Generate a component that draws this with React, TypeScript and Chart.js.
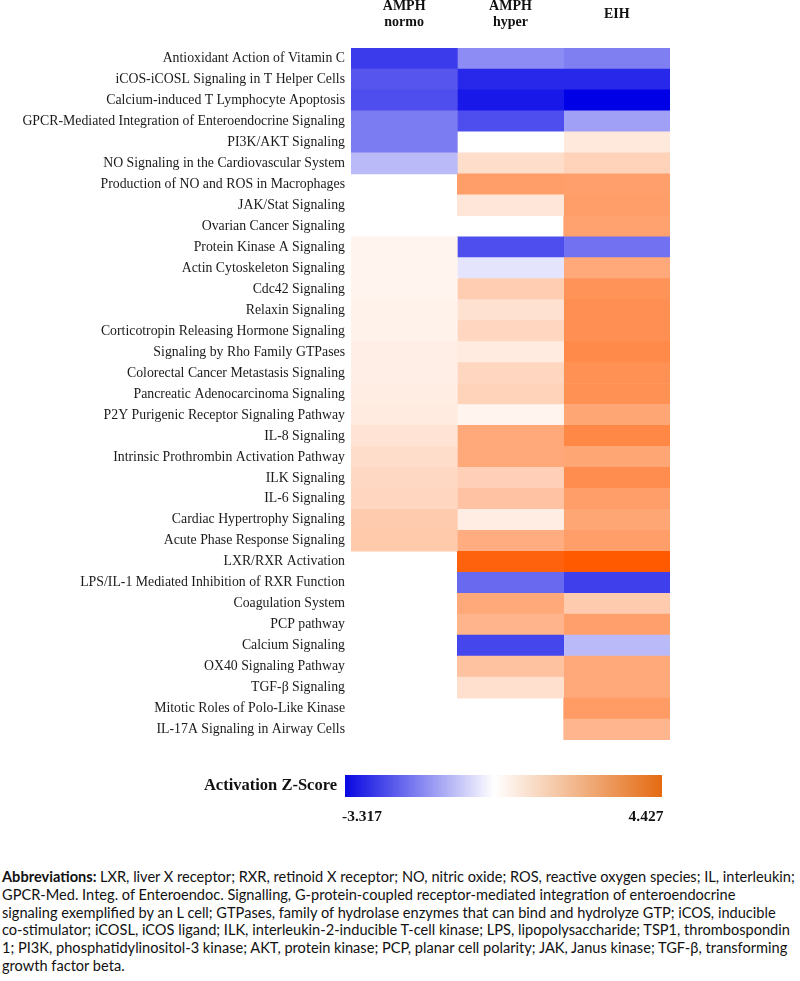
import React, { useEffect, useRef } from "react";
import { Chart, registerables } from "chart.js";
Chart.register(...registerables);

const pathways = [
  "Antioxidant Action of Vitamin C",
  "iCOS-iCOSL Signaling in T Helper Cells",
  "Calcium-induced T Lymphocyte Apoptosis",
  "GPCR-Mediated Integration of Enteroendocrine Signaling",
  "PI3K/AKT Signaling",
  "NO Signaling in the Cardiovascular System",
  "Production of NO and ROS in Macrophages",
  "JAK/Stat Signaling",
  "Ovarian Cancer Signaling",
  "Protein Kinase A Signaling",
  "Actin Cytoskeleton Signaling",
  "Cdc42 Signaling",
  "Relaxin Signaling",
  "Corticotropin Releasing Hormone Signaling",
  "Signaling by Rho Family GTPases",
  "Colorectal Cancer Metastasis Signaling",
  "Pancreatic Adenocarcinoma Signaling",
  "P2Y Purigenic Receptor Signaling Pathway",
  "IL-8 Signaling",
  "Intrinsic Prothrombin Activation Pathway",
  "ILK Signaling",
  "IL-6 Signaling",
  "Cardiac Hypertrophy Signaling",
  "Acute Phase Response Signaling",
  "LXR/RXR Activation",
  "LPS/IL-1 Mediated Inhibition of RXR Function",
  "Coagulation System",
  "PCP pathway",
  "Calcium Signaling",
  "OX40 Signaling Pathway",
  "TGF-β Signaling",
  "Mitotic Roles of Polo-Like Kinase",
  "IL-17A Signaling in Airway Cells",
];

const columnLabels = [["AMPH", "normo"], ["AMPH", "hyper"], "EIH"];

const amphNormo = [
  -2.55, -2.2, -2.3, -1.72, -1.72, -0.9, null, null, null, 0.3, 0.3, 0.3, 0.35,
  0.35, 0.45, 0.45, 0.5, 0.55, 0.75, 0.9, 1.05, 1.1, 1.4, 1.45, null, null,
  null, null, null, null, null, null, null,
];
const amphHyper = [
  -1.5, -2.8, -3.0, -2.3, 0, 0.9, 2.6, 0.66, null, -2.3, -0.35, 1.35, 0.8, 1.1,
  0.55, 1.1, 1.2, 0.3, 2.3, 2.3, 1.25, 1.6, 0.5, 2.2, 4.2, -1.95, 2.3, 2.0,
  -2.4, 1.65, 0.85, null, null,
];
const eih = [
  -1.66, -2.8, -3.317, -1.23, 0.6, 1.2, 2.55, 2.6, 2.5, -1.85, 2.3, 2.9, 3.0,
  3.0, 3.15, 2.95, 2.95, 2.4, 3.2, 2.4, 3.05, 2.6, 2.4, 2.6, 4.427, -2.5, 1.4,
  2.55, -0.9, 2.3, 2.3, 2.65, 1.95,
];
const seriesValues = [amphNormo, amphHyper, eih];

const zMin = -3.317;
const zMax = 4.427;
const scaleTitle = "Activation Z-Score";

const abbreviationLines = [
  "LXR, liver X receptor; RXR, retinoid X receptor; NO, nitric oxide; ROS, reactive oxygen species; IL, interleukin;",
  "GPCR-Med. Integ. of Enteroendoc. Signalling, G-protein-coupled receptor-mediated integration of enteroendocrine",
  "signaling exemplified by an L cell; GTPases, family of hydrolase enzymes that can bind and hydrolyze GTP; iCOS, inducible",
  "co-stimulator; iCOSL, iCOS ligand; ILK, interleukin-2-inducible T-cell kinase; LPS, lipopolysaccharide; TSP1, thrombospondin",
  "1; PI3K, phosphatidylinositol-3 kinase; AKT, protein kinase; PCP, planar cell polarity; JAK, Janus kinase; TGF-β, transforming",
  "growth factor beta.",
];

const NEG = [0, 0, 230];
const POS = [255, 90, 0];

function zColor(z: number | null): string {
  if (z === null) return "rgba(0,0,0,0)";
  const end = z < 0 ? NEG : POS;
  const t = Math.min(1, z < 0 ? -z / -zMin : z / zMax);
  const c = end.map((e) => Math.round(255 + (e - 255) * t));
  return `rgb(${c[0]},${c[1]},${c[2]})`;
}

const colorBarPlugin = {
  id: "colorBar",
  afterDraw(chart: any) {
    const ctx = chart.ctx;
    const x0 = 345, x1 = 662, y0 = 775, y1 = 797;
    ctx.save();
    const g = ctx.createLinearGradient(x0, 0, x1, 0);
    g.addColorStop(0, "rgb(8,8,226)");
    g.addColorStop(0.47, "rgb(255,255,255)");
    g.addColorStop(1, "rgb(228,106,18)");
    ctx.fillStyle = g;
    ctx.fillRect(x0, y0, x1 - x0, y1 - y0);
    ctx.fillStyle = "#111";
    ctx.font = "bold 16.5px 'Liberation Serif', serif";
    ctx.textAlign = "right";
    ctx.textBaseline = "middle";
    ctx.fillText(scaleTitle, 337, 786);
    ctx.font = "bold 15.5px 'Liberation Serif', serif";
    ctx.textAlign = "center";
    ctx.fillText(zMin.toFixed(3), 362, 817);
    ctx.fillText(zMax.toFixed(3), 646, 817);
    ctx.restore();
  },
};

function HeatmapChart() {
  const ref = useRef<HTMLCanvasElement | null>(null);
  useEffect(() => {
    if (!ref.current) return;
    const datasets = seriesValues.map((vals, c) => ({
      label: Array.isArray(columnLabels[c])
        ? (columnLabels[c] as string[]).join(" ")
        : (columnLabels[c] as string),
      data: vals.map((v) => (v === null ? null : [c, c + 1])),
      backgroundColor: vals.map((v) => zColor(v)),
      borderWidth: 0,
      borderSkipped: false,
      grouped: false,
      barPercentage: 1,
      categoryPercentage: 1,
    }));
    const chart = new Chart(ref.current, {
      type: "bar",
      data: { labels: pathways, datasets: datasets as any },
      plugins: [colorBarPlugin],
      options: {
        indexAxis: "y",
        animation: false,
        responsive: false,
        devicePixelRatio: 1,
        layout: { padding: { left: 0, right: 130, top: 0, bottom: 100 } },
        plugins: { legend: { display: false }, tooltip: { enabled: false } },
        scales: {
          x: {
            type: "linear",
            position: "top",
            min: 0,
            max: columnLabels.length,
            grid: { display: false, drawTicks: false },
            border: { display: false },
            afterBuildTicks: (scale: any) => {
              scale.ticks = columnLabels.map((_, i) => ({ value: i + 0.5 }));
            },
            afterFit: (scale: any) => {
              scale.height = 48;
            },
            ticks: {
              autoSkip: false,
              maxRotation: 0,
              minRotation: 0,
              padding: 25.5,
              crossAlign: "center",
              color: "#111",
              font: { family: "'Liberation Serif', serif", size: 14, weight: "bold", lineHeight: 1.17 },
              callback: (_v: any, i: number) => columnLabels[i] as any,
            },
          },
          y: {
            type: "category",
            grid: { display: false, drawTicks: false },
            border: { display: false },
            afterFit: (scale: any) => {
              scale.width = 351;
            },
            ticks: {
              autoSkip: false,
              padding: 6,
              color: "#1a1a1a",
              font: { family: "'Liberation Serif', serif", size: 13.8 },
            },
          },
        },
      } as any,
    });
    return () => chart.destroy();
  }, []);
  return (
    <canvas
      ref={ref}
      width={800}
      height={840}
      style={{ position: "absolute", left: 0, top: 0, width: 800, height: 840 }}
    />
  );
}

export default function App() {
  return (
    <div style={{ position: "absolute", left: 0, top: 0, width: 800, height: 981, background: "#fff" }}>
      <HeatmapChart />
      <div
        style={{
          position: "absolute",
          left: 2,
          top: 868,
          fontFamily: "Lato, 'Open Sans', sans-serif",
          fontSize: 14.6,
          lineHeight: "17.8px",
          color: "#111",
        }}
      >
        {abbreviationLines.map((line, i) => (
          <div key={i} style={{ whiteSpace: "nowrap" }}>
            {i === 0 ? <b>Abbreviations: </b> : null}
            {line}
          </div>
        ))}
      </div>
    </div>
  );
}
